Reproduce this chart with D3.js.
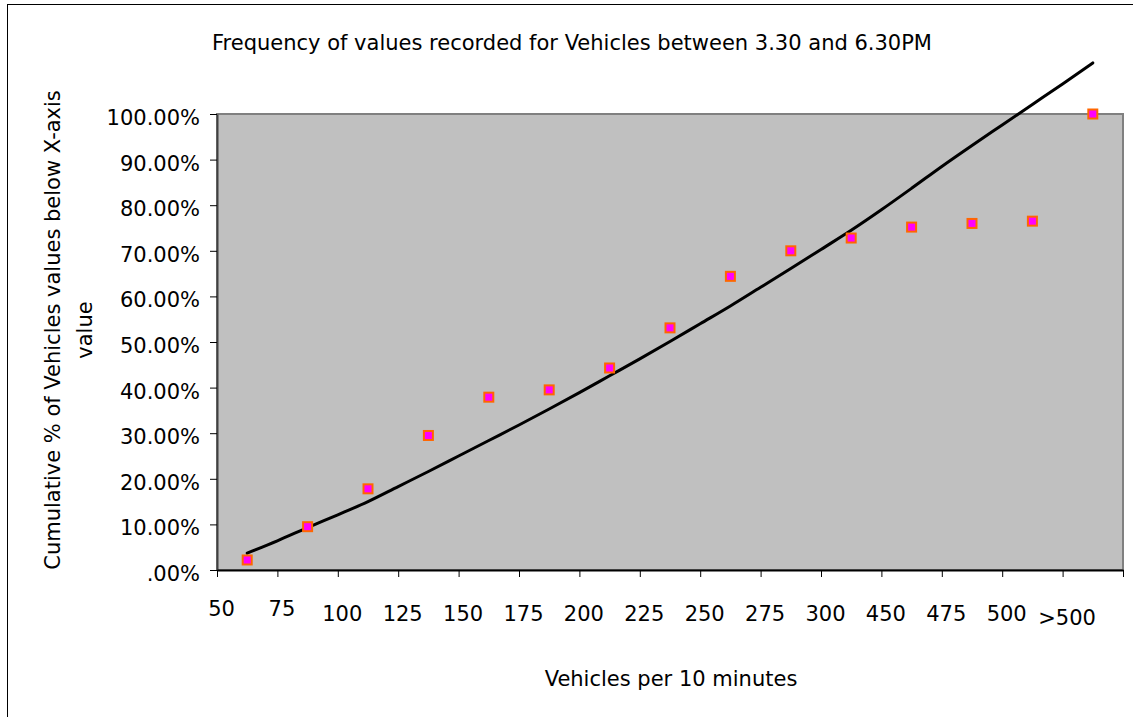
<!DOCTYPE html>
<html>
<head>
<meta charset="utf-8">
<script src="https://cdn.jsdelivr.net/npm/d3@7"></script>
<style>
  html, body { margin: 0; padding: 0; background: #fff; }
  svg { display: block; }
  text { font-family: "DejaVu Sans", Verdana, sans-serif; fill: #000; }
</style>
</head>
<body>
<svg id="chart" width="1133" height="717"></svg>
<script>
// Category labels along the x axis (vehicles per 10 minutes)
const categories = ["50", "75", "100", "125", "150", "175", "200", "225", "250", "275", "300", "450", "475", "500", ">500"];

// Cumulative share of observations at or below each category (fraction)
const cumulativeShare = [0.022, 0.095, 0.178, 0.295, 0.379, 0.395, 0.443, 0.531, 0.644, 0.700, 0.728, 0.752, 0.760, 0.765, 1.000];

// Reference curve, sampled every half category starting at the first category (percent)
const curveValues = [3.7, 6.4, 9.3, 12.1, 15.0, 18.3, 21.6, 25.0, 28.4, 31.8, 35.3, 38.9, 42.6, 46.3, 50.1,
                     54.0, 57.9, 62.0, 66.1, 70.3, 74.5, 79.0, 83.7, 88.5, 93.1, 97.6, 102.1, 106.6, 111.2];
const curveStep = 0.5;

// Y axis tick values
const yTicks = [0, 0.1, 0.2, 0.3, 0.4, 0.5, 0.6, 0.7, 0.8, 0.9, 1.0];

const titleText = "Frequency of values recorded for Vehicles between 3.30 and 6.30PM";
const xTitle = "Vehicles per 10 minutes";
const yTitleLines = ["Cumulative % of Vehicles values below X-axis", "value"];

const svg = d3.select("#chart");
const plot = { left: 217, right: 1123, top: 114, bottom: 570 };
const FS = 21;

// Outer chart frame
svg.append("rect")
  .attr("x", 7.5).attr("y", 4.5)
  .attr("width", 1140).attr("height", 730)
  .attr("fill", "#fff").attr("stroke", "#000").attr("stroke-width", 1);

const x = d3.scaleBand().domain(categories).range([plot.left, plot.right]).padding(0);
const xEdge = d3.scaleLinear().domain([0, categories.length]).range([plot.left, plot.right]);
const y = d3.scaleLinear().domain([0, 1]).range([plot.bottom, plot.top]);
// Curve position in category units (1 = first category centre)
const xCurve = d3.scaleLinear()
  .domain([1, categories.length])
  .range([x(categories[0]) + x.bandwidth() / 2, x(categories[categories.length - 1]) + x.bandwidth() / 2]);

// Plot area
svg.append("rect")
  .attr("x", plot.left).attr("y", plot.top)
  .attr("width", plot.right - plot.left).attr("height", plot.bottom - plot.top)
  .attr("fill", "#c0c0c0").attr("stroke", "#808080").attr("stroke-width", 2);

// Y axis
const fmt = d => d === 0 ? ".00%" : (d * 100).toFixed(2) + "%";
const yAxis = svg.append("g")
  .attr("transform", `translate(${plot.left},0)`)
  .call(d3.axisLeft(y).tickValues(yTicks).tickFormat(fmt).tickSize(7).tickSizeOuter(0).tickPadding(10));
yAxis.select(".domain").attr("stroke", "#404040").attr("stroke-width", 2);
yAxis.selectAll(".tick line").attr("stroke", "#000");
yAxis.selectAll(".tick text")
  .attr("font-size", FS).attr("dy", "0.5em")
  .style("font-family", "'DejaVu Sans', Verdana, sans-serif");

// X axis: ticks on category boundaries, labels beside each left boundary
const xAxis = svg.append("g")
  .attr("transform", `translate(0,${plot.bottom})`)
  .call(d3.axisBottom(xEdge).tickValues(d3.range(0, categories.length + 1))
    .tickFormat(i => categories[i] || "").tickSize(7).tickSizeOuter(0));
xAxis.select(".domain").attr("stroke", "#000").attr("stroke-width", 2);
xAxis.selectAll(".tick line").attr("stroke", "#000");
xAxis.selectAll(".tick text")
  .attr("font-size", FS)
  .style("font-family", "'DejaVu Sans', Verdana, sans-serif")
  .attr("dy", 0)
  .attr("x", 4)
  .attr("y", function () {
    const t = d3.select(this).text();
    return t.length === 2 ? 46 : (t.startsWith(">") ? 55 : 51);
  });

// Reference curve
const curvePts = curveValues.map((v, k) => ({ i: 1 + k * curveStep, v: v / 100 }));
svg.append("path")
  .datum(curvePts)
  .attr("fill", "none")
  .attr("stroke", "#000")
  .attr("stroke-width", 3)
  .attr("stroke-linejoin", "round")
  .attr("stroke-linecap", "round")
  .attr("d", d3.line().curve(d3.curveMonotoneX).x(d => xCurve(d.i)).y(d => y(d.v)));

// Cumulative markers
svg.append("g").selectAll("rect")
  .data(categories.map((c, k) => ({ c, v: cumulativeShare[k] })))
  .join("rect")
  .attr("x", d => x(d.c) + x.bandwidth() / 2 - 4.5)
  .attr("y", d => y(d.v) - 4.5)
  .attr("width", 9).attr("height", 9)
  .attr("fill", "#ff00ff")
  .attr("stroke", "#ff6600")
  .attr("stroke-width", 2);

// Titles
svg.append("text")
  .attr("x", 572).attr("y", 50)
  .attr("text-anchor", "middle").attr("font-size", FS)
  .text(titleText);

svg.append("text")
  .attr("x", 671).attr("y", 686)
  .attr("text-anchor", "middle").attr("font-size", FS)
  .text(xTitle);

const yt = svg.append("text")
  .attr("transform", "translate(60,330) rotate(-90)")
  .attr("text-anchor", "middle").attr("font-size", FS);
yt.selectAll("tspan")
  .data(yTitleLines)
  .join("tspan")
  .attr("x", 0)
  .attr("y", (d, i) => i * 32)
  .text(d => d);
</script>
</body>
</html>
